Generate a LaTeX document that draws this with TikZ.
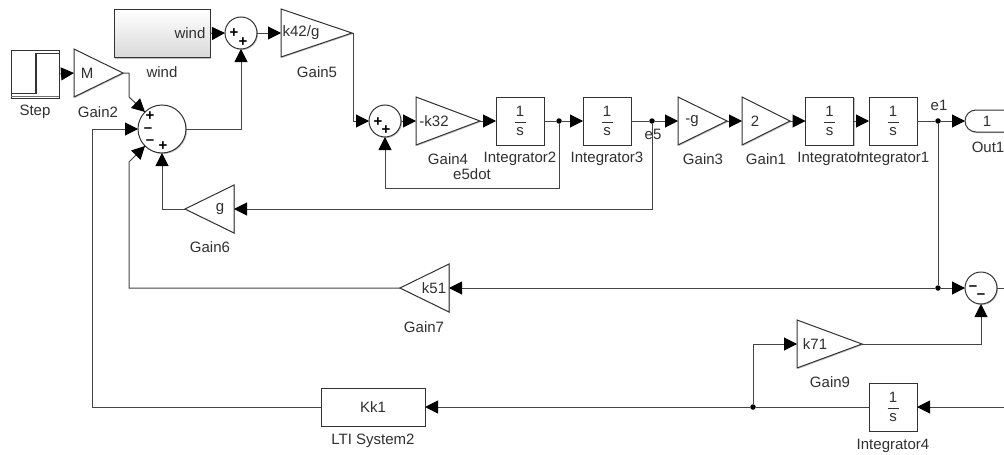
\documentclass[tikz,border=0pt]{standalone}
\usepackage{fontspec}
\setmainfont{Liberation Sans}
\usetikzlibrary{arrows.meta,shapes.geometric,shadows}
\definecolor{wire}{HTML}{444444}
\definecolor{edge}{HTML}{333333}
\definecolor{ink}{HTML}{303030}
\newcommand\oneovers{$\displaystyle{\mbox{\makebox[11pt]{1}}\above 0.9pt\mbox{\makebox[11pt]{s}}}$}
\tikzset{
  every node/.style={font=\fontsize{15}{17}\selectfont,text=ink,inner sep=0pt,outer sep=0pt},
  blockshadow/.style={general shadow={shadow xshift=1pt,shadow yshift=-1pt,fill=black!40,opacity=.6}},
  blockbox/.style={draw=edge,line width=1pt,fill=white,blockshadow},
  gainblock/.style={isosceles triangle,isosceles triangle stretches,draw=edge,line width=1pt,fill=white,blockshadow,anchor=apex},
  sumblock/.style={circle,draw=edge,line width=1pt,fill=white,blockshadow},
  dotnode/.style={circle,fill=black,minimum size=5.5pt},
  wirepath/.style={draw=wire,line width=1pt},
  arrowpath/.style={wirepath,-{Triangle[length=13pt,width=13pt,color=black]}},
  sign/.style={font=\fontsize{15}{17}\selectfont\bfseries,text=black},
}
\begin{document}
\begin{tikzpicture}[x=1pt,y=-1pt]
\useasboundingbox (0,0) rectangle (1004,455);
\clip (0,0) rectangle (1004,455);
\fill[white] (0,0) rectangle (1004,455);

% Step
\node[blockbox,minimum width=48pt,minimum height=48pt] (step) at (35,74) {};
\draw[edge,line width=1.2pt] (11,93.5) -- (36,93.5) -- (36,53.5) -- (59,53.5);
\draw[edge!70,line width=.8pt] (11,96) -- (59,96);

% wind
\node[draw=edge,line width=1pt,top color=white,bottom color=black!15,minimum width=96pt,minimum height=48pt,blockshadow] (windblk) at (162,33.5) {};
\node (windtxt) at (190,33) {wind};

% gains
\node[gainblock,minimum height=49pt,minimum width=48pt] (g2) at (123,73) {};
\node[gainblock,minimum height=71pt,minimum width=48pt] (g5) at (352,33) {};
\node[gainblock,minimum height=64pt,minimum width=48pt] (g4) at (480,121) {};
\node[gainblock,minimum height=49pt,minimum width=48pt] (g3) at (727,121) {};
\node[gainblock,minimum height=48pt,minimum width=48pt] (g1) at (790,121) {};
\node[gainblock,minimum height=65pt,minimum width=48pt] (g9) at (862,344) {};
\node[gainblock,shape border rotate=180,minimum height=49pt,minimum width=48pt] (g6) at (185,209) {};
\node[gainblock,shape border rotate=180,minimum height=49pt,minimum width=48pt] (g7) at (400,288) {};
\node (g2t) at (87,73) {M};
\node (g5t) at (301,33) {k42/g};
\node (g4t) at (434,121) {-k32};
\node (g3t) at (692,121) {-g};
\node (g1t) at (755,121) {2};
\node (g9t) at (815,344) {k71};
\node (g6t) at (220,209) {g};
\node (g7t) at (434,288) {k51};

% integrators
\node[blockbox,minimum width=48pt,minimum height=48pt] (i2) at (520,121) {\oneovers};
\node[blockbox,minimum width=48pt,minimum height=48pt] (i3) at (607,121) {\oneovers};
\node[blockbox,minimum width=48pt,minimum height=48pt] (i0) at (829.5,121) {\oneovers};
\node[blockbox,minimum width=48pt,minimum height=48pt] (i1) at (893,121) {\oneovers};
\node[blockbox,minimum width=48pt,minimum height=48pt] (i4) at (893,407) {\oneovers};
\node[blockbox,minimum width=104pt,minimum height=38pt] (lti) at (373,407) {Kk1};

% output port
\node[draw=edge,line width=1pt,fill=white,rounded corners=11pt,minimum width=70pt,minimum height=22pt,anchor=west,blockshadow] (out) at (965,121) {};
\node (outt) at (987,121) {1};

% sums
\node[sumblock,minimum size=32pt] (swind) at (241,33) {};
\node[sumblock,minimum size=48pt] (smain) at (162,129) {};
\node[sumblock,minimum size=32pt] (s4) at (385,121) {};
\node[sumblock,minimum size=32pt] (s9) at (981,288) {};
\node[sign] (p1) at (234,33.5) {+};
\node[sign] (p2) at (243,42) {+};
\node[sign] (p3) at (150,116) {+};
\node[sign] (p4) at (148,130) {–};
\node[sign] (p5) at (150,142) {–};
\node[sign] (p6) at (163,146) {+};
\node[sign] (p7) at (378,122) {+};
\node[sign] (p8) at (386,130) {+};
\node[sign] (p9) at (973,288) {–};
\node[sign] (p10) at (981,296) {–};

% junctions
\node[dotnode] (j2) at (559,121) {};
\node[dotnode] (j3) at (652,121) {};
\node[dotnode] (je1) at (938,121) {};
\node[dotnode] (je2) at (938,288) {};
\node[dotnode] (j9) at (753,407) {};
\coordinate (rtop) at (1004,288);
\coordinate (rbot) at (1004,407);

% wires
\path[arrowpath] (step.east) -- (g2.lower side);
\path[arrowpath] (windblk.east) -- (swind.west);
\path[arrowpath] (swind.east) -- (g5.lower side);
\path[arrowpath] (g2.apex) -| (129,97) -- (smain.135);
\path[arrowpath] (smain.east) -| (swind.south);
\path[arrowpath] (g5.apex) -- (353,33) |- (s4.west);
\path[arrowpath] (s4.east) -- (g4.lower side);
\path[arrowpath] (g4.apex) -- (i2.west);
\path[wirepath] (i2.east) -- (j2);
\path[arrowpath] (j2) -- (i3.west);
\path[wirepath] (i3.east) -- (j3);
\path[arrowpath] (j3) -- (g3.lower side);
\path[arrowpath] (g3.apex) -- (g1.lower side);
\path[arrowpath] (g1.apex) -- (i0.west);
\path[arrowpath] (i0.east) -- (i1.west);
\path[wirepath] (i1.east) -- (je1);
\path[arrowpath] (je1) -- (out.west);
\path[arrowpath] (j2) |- (385,188) -- (s4.south);
\path[arrowpath] (j3) |- (g6.lower side);
\path[arrowpath] (g6.apex) -| (smain.south);
\path[wirepath] (je1) -- (je2);
\path[arrowpath] (je2) -- (s9.west);
\path[arrowpath] (je2) -- (g7.lower side);
\path[arrowpath] (g7.apex) -| (129,162) -- (smain.225);
\path[wirepath] (s9.east) -- (rtop);
\path[arrowpath] (g9.apex) -| (s9.south);
\path[arrowpath] (rbot) -- (i4.east);
\path[wirepath] (i4.west) -- (j9);
\path[arrowpath] (j9) -- (lti.east);
\path[arrowpath] (j9) |- (g9.lower side);
\path[arrowpath] (lti.west) -| (92,129) -- (smain.180);

% labels
\node (lstep) at (35,112) {Step};
\node (lg2) at (98,112) {Gain2};
\node (lwind) at (162,72) {wind};
\node (lg5) at (317,72) {Gain5};
\node (lg4) at (448,159) {Gain4};
\node (li2) at (520,159) {Integrator2};
\node (li3) at (607,159) {Integrator3};
\node (le5d) at (472,174) {e5dot};
\node (le5) at (653,134) {e5};
\node (lg3) at (703,159) {Gain3};
\node (lg1) at (766,159) {Gain1};
\node (li0) at (829.5,159) {Integrator};
\node (li1) at (893,159) {Integrator1};
\node (le1) at (939,105) {e1};
\node (lout) at (988,147) {Out1};
\node (lg6) at (210,247) {Gain6};
\node (lg7) at (424,327) {Gain7};
\node (lg9) at (830,382) {Gain9};
\node (li4) at (893,446) {Integrator4};
\node (llti) at (373,441) {LTI System2};
\end{tikzpicture}
\end{document}
